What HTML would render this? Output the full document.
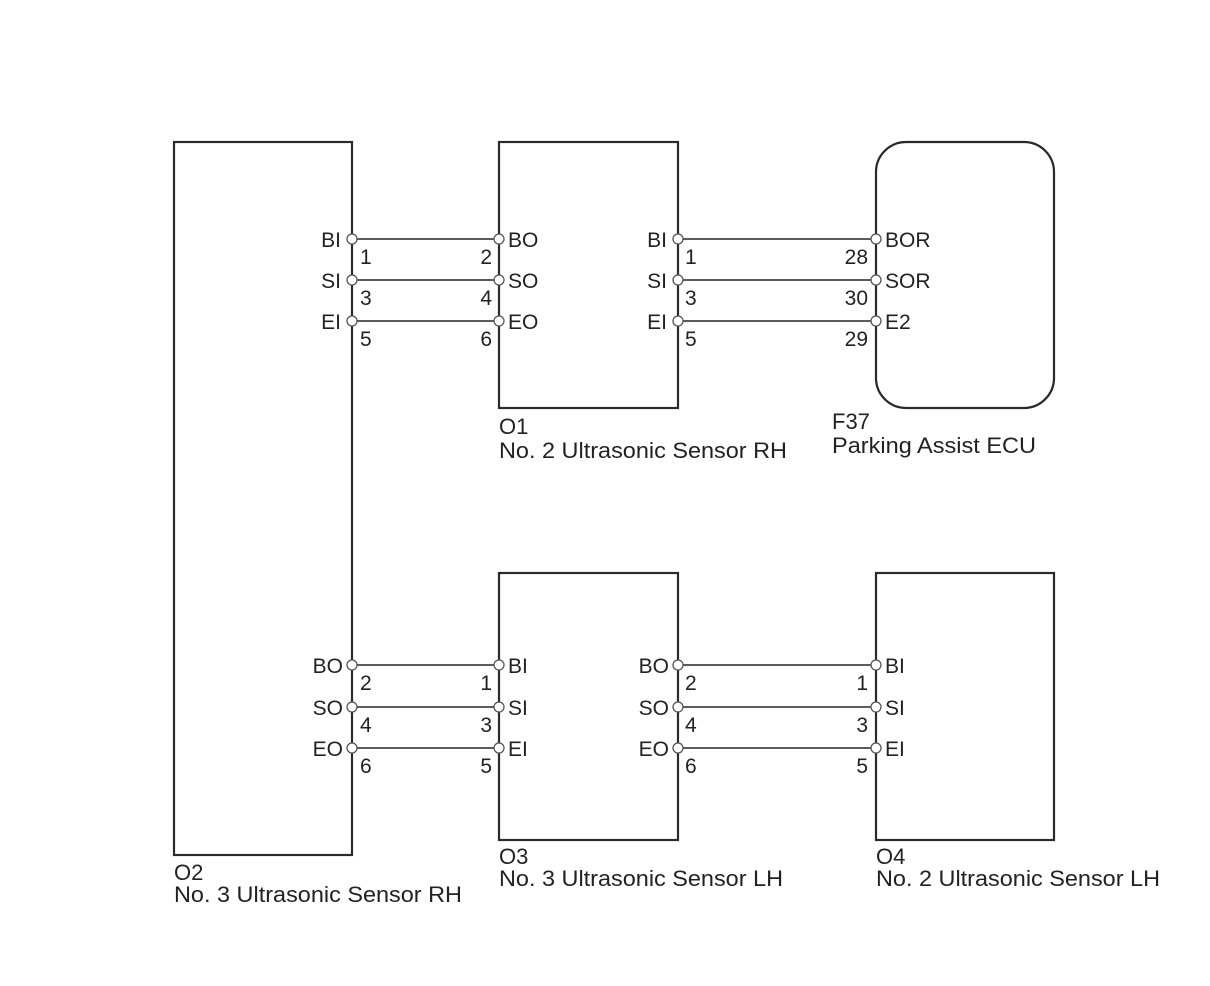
<!DOCTYPE html>
<html><head><meta charset="utf-8"><style>
html,body{margin:0;padding:0;background:#fff;}
svg{display:block}
text{font-family:"Liberation Sans",Arial,sans-serif;font-size:21px;fill:#222;}
.cap{font-size:22px;}
</style></head><body>
<svg width="1210" height="986" viewBox="0 0 1210 986" xmlns="http://www.w3.org/2000/svg">
<g fill="none" stroke="#2a2a2a" stroke-width="2.2">
<rect x="174" y="142" width="178" height="713"/>
<rect x="499" y="142" width="179" height="266"/>
<rect x="876" y="142" width="178" height="266" rx="30" ry="30"/>
<rect x="499" y="573" width="179" height="267"/>
<rect x="876" y="573" width="178" height="267"/>
</g>
<g stroke="#444" stroke-width="1.8">
<line x1="352" y1="239" x2="499" y2="239"/><line x1="352" y1="280" x2="499" y2="280"/><line x1="352" y1="321" x2="499" y2="321"/>
<line x1="678" y1="239" x2="876" y2="239"/><line x1="678" y1="280" x2="876" y2="280"/><line x1="678" y1="321" x2="876" y2="321"/>
<line x1="352" y1="665" x2="499" y2="665"/><line x1="352" y1="707" x2="499" y2="707"/><line x1="352" y1="748" x2="499" y2="748"/>
<line x1="678" y1="665" x2="876" y2="665"/><line x1="678" y1="707" x2="876" y2="707"/><line x1="678" y1="748" x2="876" y2="748"/>
</g>
<g fill="#fff" stroke="#555" stroke-width="1.3">
<circle cx="352" cy="239" r="5"/><circle cx="352" cy="280" r="5"/><circle cx="352" cy="321" r="5"/>
<circle cx="499" cy="239" r="5"/><circle cx="499" cy="280" r="5"/><circle cx="499" cy="321" r="5"/>
<circle cx="678" cy="239" r="5"/><circle cx="678" cy="280" r="5"/><circle cx="678" cy="321" r="5"/>
<circle cx="876" cy="239" r="5"/><circle cx="876" cy="280" r="5"/><circle cx="876" cy="321" r="5"/>
<circle cx="352" cy="665" r="5"/><circle cx="352" cy="707" r="5"/><circle cx="352" cy="748" r="5"/>
<circle cx="499" cy="665" r="5"/><circle cx="499" cy="707" r="5"/><circle cx="499" cy="748" r="5"/>
<circle cx="678" cy="665" r="5"/><circle cx="678" cy="707" r="5"/><circle cx="678" cy="748" r="5"/>
<circle cx="876" cy="665" r="5"/><circle cx="876" cy="707" r="5"/><circle cx="876" cy="748" r="5"/>
</g>
<g text-anchor="end">
<text x="341" y="247">BI</text><text x="341" y="288">SI</text><text x="341" y="329">EI</text>
<text x="667" y="247">BI</text><text x="667" y="288">SI</text><text x="667" y="329">EI</text>
<text x="343" y="673">BO</text><text x="343" y="715">SO</text><text x="343" y="756">EO</text>
<text x="669" y="673">BO</text><text x="669" y="715">SO</text><text x="669" y="756">EO</text>
<text x="492" y="264">2</text><text x="492" y="305">4</text><text x="492" y="346">6</text>
<text x="868" y="264">28</text><text x="868" y="305">30</text><text x="868" y="346">29</text>
<text x="492" y="690">1</text><text x="492" y="732">3</text><text x="492" y="773">5</text>
<text x="868" y="690">1</text><text x="868" y="732">3</text><text x="868" y="773">5</text>
</g>
<g>
<text x="360" y="264">1</text><text x="360" y="305">3</text><text x="360" y="346">5</text>
<text x="685" y="264">1</text><text x="685" y="305">3</text><text x="685" y="346">5</text>
<text x="360" y="690">2</text><text x="360" y="732">4</text><text x="360" y="773">6</text>
<text x="685" y="690">2</text><text x="685" y="732">4</text><text x="685" y="773">6</text>
<text x="508" y="247">BO</text><text x="508" y="288">SO</text><text x="508" y="329">EO</text>
<text x="885" y="247">BOR</text><text x="885" y="288">SOR</text><text x="885" y="329">E2</text>
<text x="508" y="673">BI</text><text x="508" y="715">SI</text><text x="508" y="756">EI</text>
<text x="885" y="673">BI</text><text x="885" y="715">SI</text><text x="885" y="756">EI</text>
</g>
<text class="cap" x="499" y="434">O1</text>
<text class="cap" x="499" y="458" textLength="288" lengthAdjust="spacingAndGlyphs">No. 2 Ultrasonic Sensor RH</text>
<text class="cap" x="832" y="429">F37</text>
<text class="cap" x="832" y="453" textLength="204" lengthAdjust="spacingAndGlyphs">Parking Assist ECU</text>
<text class="cap" x="174" y="880">O2</text>
<text class="cap" x="174" y="902" textLength="288" lengthAdjust="spacingAndGlyphs">No. 3 Ultrasonic Sensor RH</text>
<text class="cap" x="499" y="864">O3</text>
<text class="cap" x="499" y="886" textLength="284" lengthAdjust="spacingAndGlyphs">No. 3 Ultrasonic Sensor LH</text>
<text class="cap" x="876" y="864">O4</text>
<text class="cap" x="876" y="886" textLength="284" lengthAdjust="spacingAndGlyphs">No. 2 Ultrasonic Sensor LH</text>
</svg>
</body></html>
